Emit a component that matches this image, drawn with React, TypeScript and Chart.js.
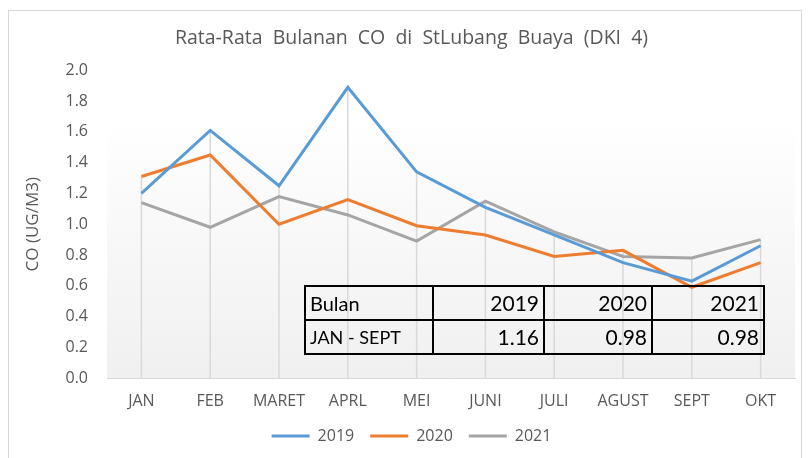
import React, { useEffect, useRef } from "react";
import { Chart, registerables } from "chart.js";

Chart.register(...registerables);

const categories = ["JAN", "FEB", "MARET", "APRL", "MEI", "JUNI", "JULI", "AGUST", "SEPT", "OKT"];
const values2019 = [1.2, 1.61, 1.25, 1.89, 1.34, 1.11, 0.93, 0.75, 0.63, 0.86];
const values2020 = [1.31, 1.45, 1.0, 1.16, 0.99, 0.93, 0.79, 0.83, 0.59, 0.75];
const values2021 = [1.14, 0.98, 1.18, 1.06, 0.89, 1.15, 0.95, 0.79, 0.78, 0.9];
const seriesNames = ["2019", "2020", "2021"];
const tableHeader = ["Bulan", "2019", "2020", "2021"];
const tableRow = ["JAN - SEPT", "1.16", "0.98", "0.98"];

const FONT = "'Open Sans', 'Noto Sans', sans-serif";
const GREY_TEXT = "#595959";

const bgPlugin = {
  id: "bgGradient",
  beforeDraw(chart: any) {
    const { ctx, chartArea } = chart;
    if (!chartArea) return;
    const g = ctx.createLinearGradient(0, chartArea.top, 0, chartArea.bottom);
    g.addColorStop(0, "#ffffff");
    g.addColorStop(0.15, "#ffffff");
    g.addColorStop(1, "#f0f0f0");
    ctx.save();
    ctx.fillStyle = g;
    ctx.fillRect(chartArea.left, chartArea.top, chartArea.right - chartArea.left, chartArea.bottom - chartArea.top);
    ctx.restore();
  },
};

const dropLinePlugin = {
  id: "dropLines",
  beforeDatasetsDraw(chart: any) {
    const { ctx, chartArea, scales } = chart;
    const n = chart.data.labels.length;
    ctx.save();
    ctx.strokeStyle = "#d9d9d9";
    ctx.lineWidth = 1.5;
    for (let i = 0; i < n; i++) {
      let max = -Infinity;
      chart.data.datasets.forEach((d: any) => {
        if (d.data[i] > max) max = d.data[i];
      });
      const x = scales.x.getPixelForValue(i);
      const y = scales.y.getPixelForValue(max);
      ctx.beginPath();
      ctx.moveTo(x, y);
      ctx.lineTo(x, chartArea.bottom);
      ctx.stroke();
    }
    ctx.restore();
  },
};

export default function App() {
  const ref = useRef<HTMLCanvasElement | null>(null);

  useEffect(() => {
    if (!ref.current) return;
    const chart = new Chart(ref.current, {
      type: "line",
      data: {
        labels: categories,
        datasets: [
          { label: seriesNames[0], data: values2019, borderColor: "#5b9bd5", backgroundColor: "#5b9bd5", borderWidth: 3, pointRadius: 0, tension: 0 },
          { label: seriesNames[1], data: values2020, borderColor: "#ed7d31", backgroundColor: "#ed7d31", borderWidth: 3, pointRadius: 0, tension: 0 },
          { label: seriesNames[2], data: values2021, borderColor: "#a5a5a5", backgroundColor: "#a5a5a5", borderWidth: 3, pointRadius: 0, tension: 0 },
        ],
      },
      options: {
        responsive: false,
        animation: false,
        layout: { padding: { top: 0, right: 13, bottom: 4, left: 28 } },
        plugins: {
          title: {
            display: true,
            text: "Rata-Rata  Bulanan  CO  di  StLubang  Buaya  (DKI  4)",
            color: GREY_TEXT,
            font: { family: FONT, size: 19.5, weight: "normal" },
            padding: { top: 27, bottom: 20 },
          },
          legend: {
            position: "bottom",
            labels: {
              color: GREY_TEXT,
              font: { family: FONT, size: 16 },
              usePointStyle: true,
              pointStyle: "line",
              pointStyleWidth: 38,
              boxWidth: 38,
              padding: 16,
            },
          },
          tooltip: { enabled: false },
        },
        scales: {
          x: {
            offset: true,
            grid: { display: false, drawTicks: false },
            border: { display: true, color: "#d9d9d9" },
            ticks: { color: GREY_TEXT, font: { family: FONT, size: 16 }, padding: 14, maxRotation: 0, autoSkip: false },
            afterFit: (s: any) => {
              s.height = 34;
            },
          },
          y: {
            min: 0,
            max: 2,
            grid: { display: false, drawTicks: false },
            border: { display: false },
            ticks: {
              stepSize: 0.2,
              color: GREY_TEXT,
              font: { family: FONT, size: 16 },
              padding: 19,
              callback: (v: any) => Number(v).toFixed(1),
            },
            title: {
              display: true,
              text: "CO (UG/M3)",
              color: GREY_TEXT,
              font: { family: FONT, size: 17 },
              padding: { top: -5, bottom: 0 },
            },
            afterFit: (s: any) => {
              s.width = 79;
            },
          },
        },
      },
      plugins: [bgPlugin, dropLinePlugin],
    });
    return () => chart.destroy();
  }, []);

  const colWidths = [128, 111, 108, 112];
  const cell: React.CSSProperties = {
    border: "2px solid #000",
    padding: "0 4px",
    height: 34,
    boxSizing: "border-box",
    fontFamily: "Lato, 'Open Sans', sans-serif",
    color: "#000",
    lineHeight: "30px",
    whiteSpace: "nowrap",
  };

  return (
    <div style={{ position: "absolute", left: 0, top: 0, width: 808, height: 458, background: "#fff" }}>
      <div style={{ position: "absolute", left: 8, top: 10, width: 794, height: 450, border: "1px solid #d9d9d9", boxSizing: "border-box" }} />
      <canvas ref={ref} width={808} height={458} style={{ position: "absolute", left: 0, top: 0 }} />
      <table style={{ position: "absolute", left: 304, top: 285, width: 459, tableLayout: "fixed", borderCollapse: "collapse", background: "transparent" }}>
        <colgroup>
          {colWidths.map((w, i) => (
            <col key={i} style={{ width: w }} />
          ))}
        </colgroup>
        <tbody>
          <tr>
            {tableHeader.map((t, i) => (
              <td key={i} style={{ ...cell, textAlign: i === 0 ? "left" : "right", fontSize: i === 0 ? 20 : 21 }}>{t}</td>
            ))}
          </tr>
          <tr>
            {tableRow.map((t, i) => (
              <td key={i} style={{ ...cell, textAlign: i === 0 ? "left" : "right", fontSize: i === 0 ? 18 : 21 }}>{t}</td>
            ))}
          </tr>
        </tbody>
      </table>
    </div>
  );
}
